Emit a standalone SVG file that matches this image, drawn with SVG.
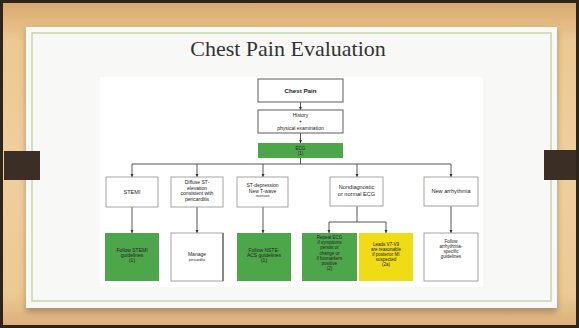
<svg xmlns="http://www.w3.org/2000/svg" width="579" height="328" viewBox="0 0 579 328">
<defs>
<linearGradient id="wood" x1="0" y1="0" x2="0" y2="1">
<stop offset="0" stop-color="#d9aa70"/>
<stop offset="0.12" stop-color="#ecc992"/>
<stop offset="0.5" stop-color="#efcf9e"/>
<stop offset="0.9" stop-color="#ecca95"/>
<stop offset="1" stop-color="#dcb07a"/>
</linearGradient>
<filter id="sh" x="-5%" y="-5%" width="110%" height="120%"><feGaussianBlur stdDeviation="3"/></filter>
<marker id="ah" viewBox="0 0 6 6" refX="6" refY="3" markerWidth="3.2" markerHeight="3.2" markerUnits="userSpaceOnUse" orient="auto"><path d="M0,0 L6,3 L0,6 Z" fill="#333"/></marker>
<style>
.ln{stroke:#444;stroke-width:0.9;fill:none}
.ar{stroke:#444;stroke-width:0.9;fill:none;marker-end:url(#ah)}
.wb{fill:#fff;stroke:#9a9a9a;stroke-width:0.9}
.mb{fill:#fff;stroke:#777;stroke-width:1.2}
.gb{fill:#4ea64a}
.yb{fill:#f0dc14}
text{font-family:"Liberation Sans",Arial,sans-serif;fill:#222;text-anchor:middle}
.t5{font-size:5px}
.t55{font-size:5.6px}
.t45{font-size:4.5px}
.t3{font-size:3.4px}
</style>
</defs>
<rect x="0" y="0" width="579" height="328" fill="#2e241c"/>
<rect x="3" y="3" width="573" height="322" fill="url(#wood)"/>
<rect x="26" y="30" width="531" height="282" fill="#6a5a48" opacity="0.5" filter="url(#sh)"/>
<rect x="26" y="27" width="531" height="281" fill="#f8f8f6"/>
<rect x="32" y="33" width="519" height="268" fill="none" stroke="#c9d8ae" stroke-width="1.6"/>
<rect x="4" y="151" width="36" height="29" fill="#3a2e25"/>
<rect x="544" y="150" width="32" height="30" fill="#3a2e25"/>
<text x="288" y="56" style="font-family:'Liberation Serif','Times New Roman',serif;font-size:22px;fill:#333">Chest Pain Evaluation</text>
<rect x="100" y="77" width="383" height="210" fill="#ffffff"/>
<g id="connectors">
<line class="ar" x1="300.5" y1="102" x2="300.5" y2="110"/>
<line class="ar" x1="300.5" y1="133" x2="300.5" y2="143"/>
<polyline class="ln" points="300.5,158 300.5,164"/>
<line class="ln" x1="132" y1="164" x2="451" y2="164"/>
<line class="ar" x1="132" y1="164" x2="132" y2="177"/>
<line class="ar" x1="197" y1="164" x2="197" y2="177"/>
<line class="ar" x1="263" y1="164" x2="263" y2="177"/>
<line class="ar" x1="357" y1="164" x2="357" y2="177"/>
<line class="ar" x1="451" y1="164" x2="451" y2="177"/>
<line class="ar" x1="132" y1="207" x2="132" y2="233"/>
<line class="ar" x1="197" y1="207" x2="197" y2="233"/>
<line class="ar" x1="263" y1="207" x2="263" y2="233"/>
<line class="ar" x1="451" y1="206" x2="451" y2="233"/>
<line class="ln" x1="357" y1="206" x2="357" y2="222"/>
<line class="ln" x1="329" y1="222" x2="386" y2="222"/>
<line class="ar" x1="329" y1="222" x2="329" y2="233"/>
<line class="ar" x1="386" y1="222" x2="386" y2="233"/>
</g>
<g id="chest-pain"><rect class="mb" x="258" y="79" width="85" height="23"/><text x="300.5" y="93" style="font-size:6.2px;font-weight:bold">Chest Pain</text></g>
<g id="history"><rect class="mb" x="258" y="110" width="85" height="23"/><text class="t5" x="300.5" y="117">History</text><text class="t5" x="300.5" y="123">+</text><text class="t5" x="300.5" y="129.5">physical examination</text></g>
<g id="ecg"><rect class="gb" x="258" y="143" width="85" height="15"/><text class="t45" x="300.5" y="149.5">ECG</text><text class="t45" x="300.5" y="155">(1)</text></g>
<g id="stemi"><rect class="wb" x="106" y="177" width="52" height="30"/><text class="t55" x="132" y="194">STEMI</text></g>
<g id="diffuse"><rect class="wb" x="171" y="177" width="52" height="30"/><text class="t5" x="197" y="184">Diffuse ST-</text><text class="t5" x="197" y="189.5">elevation</text><text class="t5" x="197" y="195">consistent with</text><text class="t5" x="197" y="200.5">pericarditis</text></g>
<g id="st-depression"><rect class="wb" x="237" y="177" width="51" height="30"/><text class="t5" x="262.5" y="187">ST-depression</text><text class="t5" x="262.5" y="192.5">New T-wave</text><text class="t3" x="262.5" y="197">inversion</text></g>
<g id="nondiagnostic"><rect class="wb" x="330" y="177" width="53" height="29"/><text class="t55" x="356.5" y="189">Nondiagnostic</text><text class="t55" x="356.5" y="195.5">or normal ECG</text></g>
<g id="new-arrhythmia"><rect class="wb" x="424" y="177" width="54" height="29"/><text class="t55" x="451" y="193">New arrhythmia</text></g>
<g id="follow-stemi"><rect class="gb" x="105" y="233" width="54" height="48"/><text class="t5" x="132" y="252">Follow STEMI</text><text class="t5" x="132" y="257">guidelines</text><text class="t5" x="132" y="262">(1)</text></g>
<g id="manage"><rect class="wb" x="171" y="233" width="52" height="48"/><line x1="223" y1="233" x2="223" y2="281" stroke="#555" stroke-width="1.2"/><text class="t5" x="197" y="256">Manage</text><text class="t3" x="197" y="260.5">pericarditis</text></g>
<g id="follow-nste"><rect class="gb" x="237" y="233" width="54" height="48"/><text class="t5" x="264" y="252">Follow NSTE-</text><text class="t5" x="264" y="257">ACS guidelines</text><text class="t5" x="264" y="262">(1)</text></g>
<g id="repeat-ecg"><rect class="gb" x="302" y="233" width="55" height="48"/><text class="t45" x="329.5" y="239">Repeat ECG</text><text class="t45" x="329.5" y="244.2">if symptoms</text><text class="t45" x="329.5" y="249.4">persist or</text><text class="t45" x="329.5" y="254.6">change or</text><text class="t45" x="329.5" y="259.8">if biomarkers</text><text class="t45" x="329.5" y="265">positive</text><text class="t45" x="329.5" y="270.2">(2)</text></g>
<g id="leads"><rect class="yb" x="359" y="233" width="54" height="48"/><text class="t45" x="386" y="246">Leads V7-V9</text><text class="t45" x="386" y="251">are reasonable</text><text class="t45" x="386" y="256">if posterior MI</text><text class="t45" x="386" y="261">suspected</text><text class="t45" x="386" y="266">(2a)</text></g>
<g id="follow-arrhythmia"><rect class="wb" x="424" y="233" width="54" height="48"/><text class="t45" x="451" y="243">Follow</text><text class="t45" x="451" y="248">arrhythmia-</text><text class="t45" x="451" y="253">specific</text><text class="t45" x="451" y="258">guidelines</text></g>
</svg>
